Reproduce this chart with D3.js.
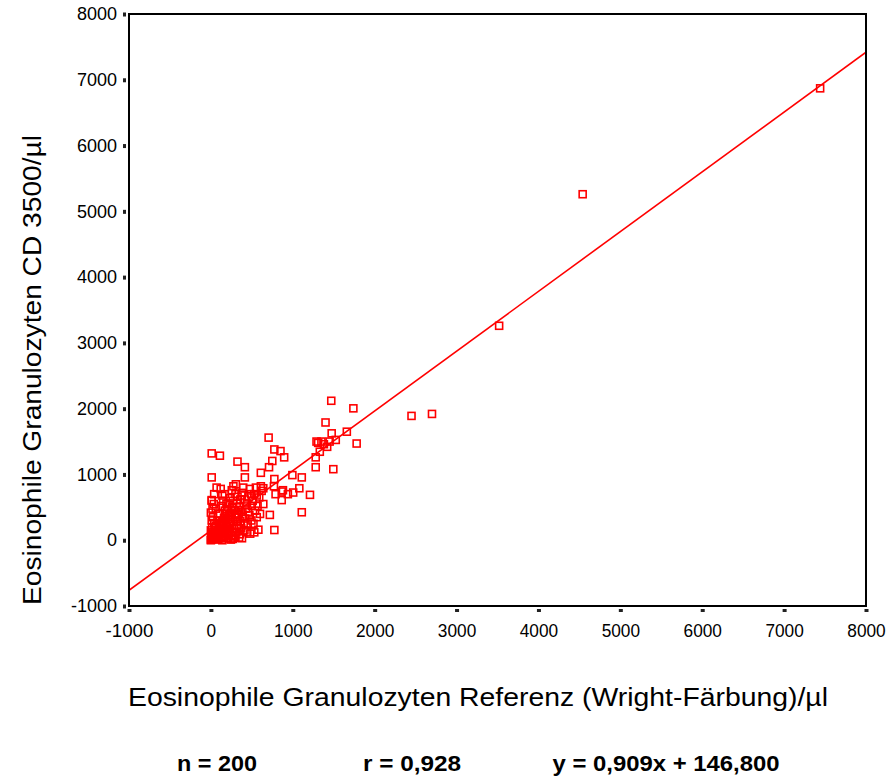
<!DOCTYPE html>
<html><head><meta charset="utf-8">
<script src="https://cdn.jsdelivr.net/npm/d3@7"></script>
<style>body{margin:0;background:#fff;} text{font-family:"Liberation Sans",Arial,sans-serif;}</style>
</head><body><svg id="c" width="892" height="778"></svg>
<script>
const xTicks = [-1000,0,1000,2000,3000,4000,5000,6000,7000,8000];
const yTicks = [-1000,0,1000,2000,3000,4000,5000,6000,7000,8000];
const slope = 0.909, intercept = 146.8;
const xLabel = "Eosinophile Granulozyten Referenz (Wright-Färbung)/µl";
const yLabel = "Eosinophile Granulozyten CD 3500/µl";
const stats = ["n = 200", "r = 0,928", "y = 0,909x + 146,800"];
const refX = [7440,4540,3520,2700,2450,1740,1470,1400,1660,1475,1780,705,1290,1350,1420,1525,1330,775,850,895,1280,1280,1495,750,710,610,775,995,1110,1080,1005,1210,865,640,10,110,325,415,415,10,865,1110,720,775,10,1310,1380,1450,770,790,940,880,
0,10,20,5,30,0,15,40,10,25,0,20,35,10,50,60,45,70,80,90,
100,110,120,130,140,150,160,170,180,190,200,110,130,150,170,120,140,160,180,200,
210,220,230,240,250,260,270,280,290,300,215,235,255,275,295,285,245,265,225,205,
310,320,330,340,350,360,370,380,390,400,315,335,355,375,395,345,365,385,305,325,
410,420,430,440,450,460,470,480,490,500,415,435,455,475,495,
510,520,530,540,550,560,570,580,590,600,620,640,530,560,610,
0,5,15,25,35,50,60,70,80,90,100,110,120,130,140,150,160,170,180,190,200,210,220,230,240,250,260,270,280,300,320,340,360,380,60,90,40,70];
const cdY = [6870,5260,3260,1920,1890,2005,2120,1790,1650,1625,1470,1560,1500,1500,1420,1525,1345,1380,1355,1260,1260,1110,1080,1205,1110,1025,930,990,955,790,725,690,740,790,1320,1285,1195,1110,955,955,610,425,385,155,610,1480,1460,1500,820,700,700,760,
0,20,50,80,120,150,200,260,300,350,420,480,550,600,40,100,180,10,60,140,
30,90,160,220,280,60,340,120,400,200,470,250,520,600,700,780,680,40,300,90,
150,250,330,420,80,510,600,180,350,700,560,640,760,820,450,40,10,280,380,30,
120,220,300,400,500,620,180,720,350,260,560,460,90,680,800,40,240,430,850,660,
150,330,480,560,250,650,380,100,700,520,620,120,430,780,300,
600,250,700,450,800,350,520,160,650,400,750,550,120,680,820,
10,30,60,90,40,150,220,70,300,20,180,400,50,110,0,260,160,450,30,550,220,320,70,170,280,380,130,20,460,60,380,180,290,30,480,400,700,800];

const svg = d3.select("#c");
const L = 129, R = 866, T = 14, B = 606;
const x = d3.scaleLinear().domain([-1000, 8000]).range([L, R]);
const y = d3.scaleLinear().domain([-1000, 8000]).range([B, T]);
const fmt = d => String(d);

svg.append("clipPath").attr("id","clip").append("rect")
  .attr("x", L).attr("y", T).attr("width", R-L).attr("height", B-T);

// regression line
const lx = [-1000, 8000];
svg.append("line").attr("clip-path","url(#clip)")
  .attr("x1", x(lx[0])).attr("y1", y(slope*lx[0]+intercept))
  .attr("x2", x(lx[1])).attr("y2", y(slope*lx[1]+intercept))
  .attr("stroke", "#ff0000").attr("stroke-width", 1.6);

// points
const pts = refX.map((v,i)=>[v, cdY[i]]);
const s = 7;
svg.append("g").selectAll("rect").data(pts).join("rect")
  .attr("x", d => x(d[0]) - s/2).attr("y", d => y(d[1]) - s/2)
  .attr("width", s).attr("height", s)
  .attr("fill", "none").attr("stroke", "#ff0000").attr("stroke-width", 1.6);

// frame
svg.append("rect").attr("x", L).attr("y", T).attr("width", R-L).attr("height", B-T)
  .attr("fill","none").attr("stroke","#000").attr("stroke-width",2);

// axes
const xAxis = d3.axisBottom(x).tickValues(xTicks).tickFormat(fmt).tickSize(0).tickPadding(18);
const gx = svg.append("g").attr("transform", `translate(0,${B})`).call(xAxis);
gx.select(".domain").remove();
gx.selectAll("text").attr("font-size", 19).attr("fill","#000")
  .attr("textLength", d => String(d).length * 9.6).attr("lengthAdjust","spacingAndGlyphs");
gx.selectAll(".tick").append("rect").attr("x",-2).attr("y",3).attr("width",4).attr("height",3).attr("fill","#222");

const yAxis = d3.axisLeft(y).tickValues(yTicks).tickFormat(fmt).tickSize(0).tickPadding(12);
const gy = svg.append("g").attr("transform", `translate(${L},0)`).call(yAxis);
gy.select(".domain").remove();
gy.selectAll("text").attr("font-size", 18).attr("fill","#000");
gy.selectAll(".tick").append("rect").attr("x",-6).attr("y",-2).attr("width",3).attr("height",4).attr("fill","#222");

// labels
svg.append("text").attr("x", 478).attr("y", 706).attr("text-anchor","middle")
  .attr("font-size", 26).attr("textLength", 700).attr("lengthAdjust","spacingAndGlyphs").text(xLabel);
svg.append("text").attr("transform","translate(41,370) rotate(-90)").attr("text-anchor","middle")
  .attr("font-size", 26).attr("textLength", 470).attr("lengthAdjust","spacingAndGlyphs").text(yLabel);

const sx = [217, 412, 666];
const sw = [80, 98, 227];
svg.selectAll("text.stat").data(stats).join("text").attr("class","stat")
  .attr("x", (d,i)=>sx[i]).attr("y", 771).attr("text-anchor","middle")
  .attr("font-size", 22).attr("font-weight","bold")
  .attr("textLength", (d,i)=>sw[i]).attr("lengthAdjust","spacingAndGlyphs")
  .text(d=>d);
</script></body></html>
